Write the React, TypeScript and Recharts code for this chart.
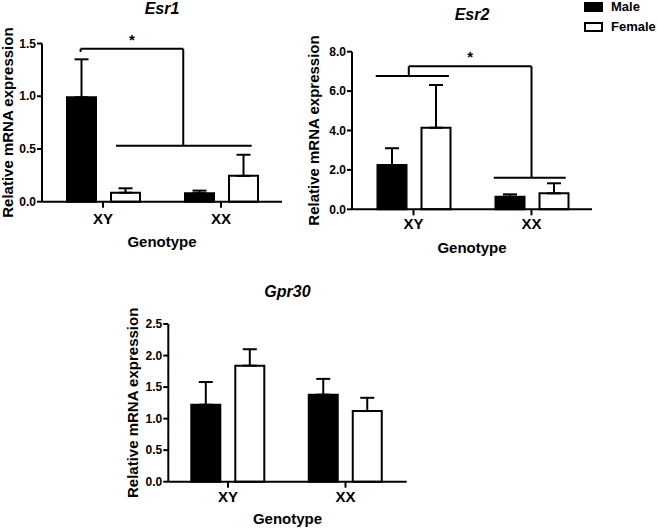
import React from 'react';
import { BarChart, Bar, XAxis, YAxis, ErrorBar, ReferenceLine } from 'recharts';

const categories = ['XY', 'XX'];
const seriesNames = ['Male', 'Female'];
const seriesFills = ['#000000', '#ffffff'];

const esr1Male = [0.99, 0.08];
const esr1MaleSem = [0.36, 0.025];
const esr1Female = [0.085, 0.245];
const esr1FemaleSem = [0.042, 0.2];
const esr1Ticks = [0, 0.5, 1.0, 1.5];

const esr2Male = [2.25, 0.64];
const esr2MaleSem = [0.85, 0.12];
const esr2Female = [4.14, 0.81];
const esr2FemaleSem = [2.17, 0.51];
const esr2Ticks = [0, 2, 4, 6, 8];

const gpr30Male = [1.22, 1.38];
const gpr30MaleSem = [0.36, 0.25];
const gpr30Female = [1.84, 1.12];
const gpr30FemaleSem = [0.26, 0.21];
const gpr30Ticks = [0, 0.5, 1.0, 1.5, 2.0, 2.5];

// significance brackets: segments in (genotype index, expression) units
const esr1Brackets = [
  [[-0.19, 1.42], [-0.19, 1.45]],
  [[-0.19, 1.45], [0.68, 1.45]],
  [[0.68, 1.45], [0.68, 0.53]],
  [[0.11, 0.53], [1.26, 0.53]],
];
const esr1StarSegment = 1;

const esr2Brackets = [
  [[-0.32, 6.77], [0.3, 6.77]],
  [[-0.04, 6.77], [-0.04, 7.26]],
  [[-0.04, 7.26], [1.0, 7.26]],
  [[1.0, 7.26], [1.0, 1.6]],
  [[0.68, 1.6], [1.29, 1.6]],
];
const esr2StarSegment = 2;

const FONT = '"Liberation Sans", Arial, Helvetica, sans-serif';
const BLACK = '#000000';

// genotype index (0 = XY centre, 1 = XX centre) -> fraction of the category range
const toRange = (g: number) => (g + 0.5) / categories.length;

type PanelProps = {
  left: number;
  top: number;
  width: number;
  height: number;
  margin: { top: number; right: number; bottom: number; left: number };
  yWidth: number;
  padL: number;
  padR: number;
  title: string;
  titleTop: number;
  male: number[];
  maleSem: number[];
  female: number[];
  femaleSem: number[];
  ticks: number[];
  brackets?: number[][][];
  starSegment?: number;
  yLabelX: number;
  xTickMargin: number;
  xLabelDy: number;
};

function Panel(p: PanelProps) {
  const data = categories.map((c, i) => ({
    cat: c,
    male: p.male[i],
    female: p.female[i],
    maleErr: [0, p.maleSem[i]],
    femaleErr: [0, p.femaleSem[i]],
  }));
  const plotLeft = p.margin.left + p.yWidth;
  const plotWidth = p.width - plotLeft - p.margin.right;
  const yMax = p.ticks[p.ticks.length - 1];
  const lineStyle = { stroke: BLACK, strokeWidth: 2 };

  return (
    <div style={{ position: 'absolute', left: p.left, top: p.top, width: p.width, height: p.height }}>
      <div
        style={{
          position: 'absolute',
          left: plotLeft,
          width: plotWidth,
          top: p.titleTop - p.top,
          textAlign: 'center',
          fontSize: 16,
          lineHeight: '16px',
          fontWeight: 'bold',
          fontStyle: 'italic',
          color: BLACK,
          whiteSpace: 'nowrap',
        }}
      >
        {p.title}
      </div>
      <BarChart
        width={p.width}
        height={p.height}
        data={data}
        margin={p.margin}
        barGap={15}
        style={{ position: 'absolute', left: 0, top: 0 }}
      >
        <XAxis
          dataKey="cat"
          interval={0}
          height={30}
          padding={{ left: p.padL, right: p.padR }}
          axisLine={lineStyle}
          tickLine={lineStyle}
          tickSize={6}
          tickMargin={p.xTickMargin}
          tick={{ fill: BLACK, fontSize: 15, fontWeight: 'bold' }}
          label={(lp: any) => {
            const vb = lp.viewBox;
            return (
              <text
                x={vb.x + vb.width / 2}
                y={vb.y + p.xLabelDy}
                textAnchor="middle"
                fontSize={15}
                fontWeight="bold"
                fill={BLACK}
              >
                Genotype
              </text>
            );
          }}
        />
        <XAxis
          xAxisId="n"
          type="number"
          domain={[0, 1]}
          allowDataOverflow
          padding={{ left: p.padL, right: p.padR }}
          hide
        />
        <YAxis
          width={p.yWidth}
          domain={[0, yMax]}
          ticks={p.ticks}
          interval={0}
          tickFormatter={(v: number) => v.toFixed(1)}
          axisLine={lineStyle}
          tickLine={lineStyle}
          tickSize={5}
          tickMargin={1}
          tick={{ fill: BLACK, fontSize: 12, fontWeight: 'bold' }}
          label={(lp: any) => {
            const vb = lp.viewBox;
            const cy = vb.y + vb.height / 2;
            return (
              <text
                x={p.yLabelX}
                y={cy}
                transform={`rotate(-90 ${p.yLabelX} ${cy})`}
                textAnchor="middle"
                fontSize={15}
                fontWeight="bold"
                fill={BLACK}
              >
                Relative mRNA expression
              </text>
            );
          }}
        />
        <Bar
          dataKey="male"
          name={seriesNames[0]}
          fill={seriesFills[0]}
          stroke={BLACK}
          strokeWidth={2}
          barSize={29}
          isAnimationActive={false}
        >
          <ErrorBar dataKey="maleErr" direction="y" width={7} stroke={BLACK} strokeWidth={2} />
        </Bar>
        <Bar
          dataKey="female"
          name={seriesNames[1]}
          fill={seriesFills[1]}
          stroke={BLACK}
          strokeWidth={2}
          barSize={29}
          isAnimationActive={false}
        >
          <ErrorBar dataKey="femaleErr" direction="y" width={7} stroke={BLACK} strokeWidth={2} />
        </Bar>
        {(p.brackets || []).map((seg, i) => (
          <ReferenceLine
            key={i}
            xAxisId="n"
            ifOverflow="visible"
            segment={[
              { x: toRange(seg[0][0]), y: seg[0][1] },
              { x: toRange(seg[1][0]), y: seg[1][1] },
            ]}
            stroke={BLACK}
            strokeWidth={2}
            label={
              i === p.starSegment
                ? { value: '*', position: 'top', offset: 4, fill: BLACK, fontSize: 15, fontWeight: 'bold' }
                : undefined
            }
          />
        ))}
      </BarChart>
    </div>
  );
}

function LegendBox() {
  return (
    <div style={{ position: 'absolute', left: 584, top: 1, width: 80, height: 40 }}>
      {seriesNames.map((name, i) => (
        <div key={name} style={{ position: 'absolute', left: 0, top: i * 20, height: 14, width: 80 }}>
          <div
            style={{
              position: 'absolute',
              left: 0,
              top: 1,
              width: 15,
              height: 6,
              background: seriesFills[i],
              border: `2px solid ${BLACK}`,
            }}
          />
          <div
            style={{
              position: 'absolute',
              left: 27,
              top: -1,
              fontSize: 13,
              lineHeight: '13px',
              fontWeight: 'bold',
              color: BLACK,
              whiteSpace: 'nowrap',
            }}
          >
            {name}
          </div>
        </div>
      ))}
    </div>
  );
}

export default function App() {
  return (
    <div
      style={{
        position: 'absolute',
        left: 0,
        top: 0,
        width: 657,
        height: 528,
        background: '#ffffff',
        fontFamily: FONT,
        overflow: 'hidden',
      }}
    >
      <Panel
        left={0}
        top={0}
        width={300}
        height={260}
        margin={{ top: 43.5, right: 18, bottom: 28.3, left: 0 }}
        yWidth={42}
        padL={2}
        padR={2}
        title="Esr1"
        titleTop={1}
        male={esr1Male}
        maleSem={esr1MaleSem}
        female={esr1Female}
        femaleSem={esr1FemaleSem}
        ticks={esr1Ticks}
        brackets={esr1Brackets}
        starSegment={esr1StarSegment}
        yLabelX={13}
        xTickMargin={5.5}
        xLabelDy={45}
      />
      <Panel
        left={300}
        top={0}
        width={300}
        height={260}
        margin={{ top: 51.7, right: 8, bottom: 20.7, left: 0 }}
        yWidth={52}
        padL={2.5}
        padR={1.5}
        title="Esr2"
        titleTop={6.5}
        male={esr2Male}
        maleSem={esr2MaleSem}
        female={esr2Female}
        femaleSem={esr2FemaleSem}
        ticks={esr2Ticks}
        brackets={esr2Brackets}
        starSegment={esr2StarSegment}
        yLabelX={19}
        xTickMargin={3}
        xLabelDy={44}
      />
      <Panel
        left={100}
        top={270}
        width={320}
        height={258}
        margin={{ top: 54, right: 13.3, bottom: 16.3, left: 0 }}
        yWidth={68.3}
        padL={1}
        padR={2.5}
        title="Gpr30"
        titleTop={283.5}
        male={gpr30Male}
        maleSem={gpr30MaleSem}
        female={gpr30Female}
        femaleSem={gpr30FemaleSem}
        ticks={gpr30Ticks}
        yLabelX={38}
        xTickMargin={4}
        xLabelDy={42.5}
      />
      <LegendBox />
    </div>
  );
}
